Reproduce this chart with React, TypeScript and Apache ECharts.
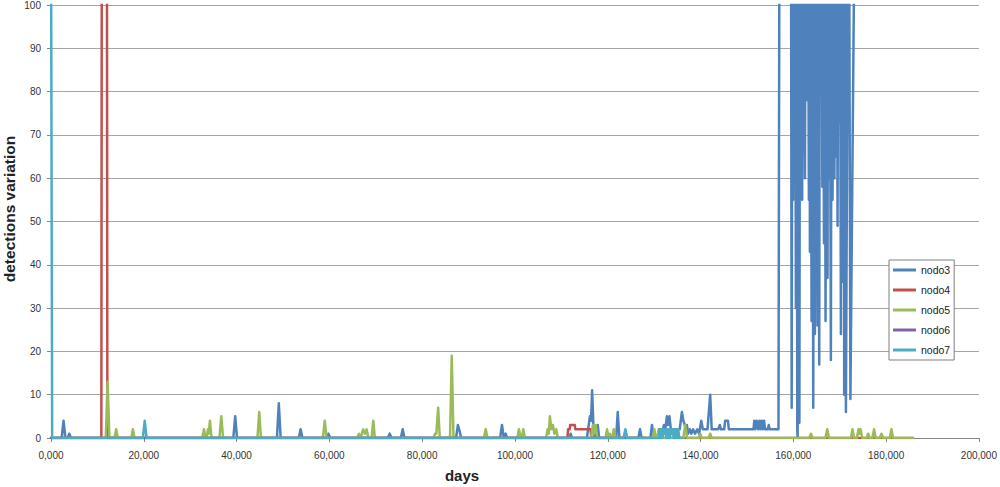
import React, { useEffect, useRef } from 'react';
import * as echarts from 'echarts';

const FONT = '"Liberation Sans", Arial, sans-serif';

const seriesNames = ['nodo3', 'nodo4', 'nodo5', 'nodo6', 'nodo7'];
const seriesColors = ['#4F81BD', '#C0504D', '#9BBB59', '#8064A2', '#4BACC6'];

const xTickLabels = ['0,000', '20,000', '40,000', '60,000', '80,000', '100,000', '120,000', '140,000', '160,000', '180,000', '200,000'];

// nodo3 (blue)
const nodo3Days = [
  0, 2300, 2700, 3100, 3600, 3950, 4300, 39300, 39700, 40100, 48700, 49100, 49500,
  53400, 53800, 54200, 59400, 59800, 60200, 72600, 73000, 73400, 75400, 75800, 76200,
  87300, 87700, 88100, 88400, 96800, 97200, 97600, 98000, 98300, 111700, 112000, 112300,
  115500, 115900, 116150, 116400, 116630, 116900, 117200, 117550, 117850, 118150,
  121800, 122150, 122500, 126600, 126950, 127300, 129200, 129530, 129900, 130800,
  131300, 131700, 132100, 132400, 132750, 133000, 133300, 133600, 135500, 135980,
  136300, 136600, 136900, 137050, 137300, 137700, 138000, 138400, 138800, 139300,
  139700, 140150, 140500, 141000, 141500, 142080, 142400, 143800, 144150, 144400,
  145100, 145300, 145900, 146100, 151400, 151600, 151800, 152100, 152400, 152700,
  152900, 153200, 153400, 153700, 153900, 154500, 154700, 154900, 156800,
  157000, 159500, 159640, 159800, 159950, 160100, 160250, 160400, 160550, 160700,
  160850, 160930, 161050, 161200, 161300, 161450, 161600, 161750, 161900, 162050,
  162200, 162350, 162500, 162650, 162800, 162990, 163150, 163350, 163500, 163570,
  163700, 163850, 163930, 164100, 164290, 164450, 164650, 164800, 164950, 165100,
  165220, 165350, 165580, 165700, 165800, 165940, 166100, 166250, 166440, 166600,
  166750, 166940, 167050, 167200, 167370, 167500, 167660, 167800, 167950, 168090,
  168250, 168450, 168650, 168850, 169050, 169250, 169400, 169530, 169700, 169890,
  170050, 170250, 170400, 170600, 170750, 170900, 170960, 171150, 171330, 171800,
  172020, 172300, 173200,
];
const nodo3Values = [
  0, 0, 4, 0, 0, 1, 0, 0, 5, 0, 0, 8, 0,
  0, 2, 0, 0, 1, 0, 0, 1, 0, 0, 2, 0,
  0, 3, 1.5, 0, 0, 3, 0, 1, 0, 0, 1, 0,
  0, 3, 5, 4, 11, 3, 0, 0, 3, 0,
  0, 6, 0, 0, 2, 0, 0, 3, 0, 0,
  2, 1, 3, 2, 5, 3, 5, 2, 2, 6,
  4, 3, 2, 3, 1, 2, 1, 2, 1, 2,
  1, 4, 2, 2, 2, 10, 2, 2, 3, 2,
  2, 4, 4, 2, 2, 4, 2, 4, 2, 4,
  2, 4, 2, 4, 2, 2, 3, 2, 2,
  120, 120, 7, 120, 55, 120, 72, 120, 30, 120,
  2, 0, 120, 50, 3.5, 120, 64, 120, 55, 120,
  66, 120, 60, 120, 78, 86, 120, 55, 120, 43,
  120, 65, 27, 120, 7, 120, 24, 120, 58, 120,
  26, 120, 17, 120, 100, 79, 120, 58, 120, 45,
  120, 27, 76, 120, 37, 120, 60, 120, 75, 18,
  120, 55, 120, 60, 120, 65, 120, 49, 120, 73,
  120, 24, 120, 79, 36, 120, 10, 120, 6, 120,
  120, 9, 120,
];

// nodo4 (red)
const nodo4Days = [0, 10850, 10950, 12050, 12150, 111300, 111450, 111800, 111900, 112900, 113000, 116300, 116450, 185800];
const nodo4Values = [0, 0, 120, 120, 0, 0, 2, 2, 3, 3, 2, 2, 0, 0];

// nodo5 (green)
const nodo5Days = [
  0, 11800, 12200, 12600, 13700, 14050, 14400, 17300, 17650, 18000,
  32600, 32970, 33300, 33500, 33830, 34000, 34260, 34600, 36300, 36700, 37100,
  44500, 44880, 45250, 58600, 59000, 59400, 66000, 66380, 66700, 67300, 67650,
  68020, 68400, 69100, 69460, 69800, 82400, 82790, 83050, 83440, 83800,
  86000, 86380, 86750, 93300, 93700, 94100, 100500, 100860, 101200, 101450, 101790, 102150,
  106700, 107030, 107300, 107530, 107850, 108170, 108500, 108890, 109250,
  116400, 116800, 117050, 117400, 117750, 119500, 119860, 120150, 120430, 120750,
  120950, 121290, 121650, 129700, 130040, 130350, 130650, 130970, 131300,
  136300, 136700, 137100, 139600, 139930, 140250, 141750, 142080, 142400,
  163450, 163800, 164150, 166900, 167300, 167700, 172400, 172750, 173100,
  173700, 174050, 174250, 174480, 174850, 175800, 176120, 176450, 177050, 177400, 177750,
  178650, 179000, 179350, 180800, 181140, 181500, 185800,
];
const nodo5Values = [
  0, 0, 13, 0, 0, 2, 0, 0, 2, 0,
  0, 2, 0, 0, 2, 1, 4, 0, 0, 5, 0,
  0, 6, 0, 0, 4, 0, 0, 1, 0, 2, 1,
  2, 0, 0, 4, 0, 0, 1, 1, 7, 0,
  0, 19, 0, 0, 2, 0, 0, 2, 0, 0, 2, 0,
  0, 2, 1, 5, 2, 3, 1, 2, 0,
  0, 3, 1, 3, 0, 0, 2, 0, 1, 0,
  0, 2, 0, 0, 2, 0, 0, 2, 0,
  0, 3, 0, 0, 1, 0, 0, 1, 0,
  0, 1, 0, 0, 2, 0, 0, 2, 0,
  0, 2, 1, 2, 0, 0, 1, 0, 0, 2, 0,
  0, 1, 0, 0, 2, 0, 0,
];

// nodo6 (purple)
const nodo6Days = [0, 128000];
const nodo6Values = [0, 0];

// nodo7 (cyan)
const nodo7Days = [
  0, 250, 19800, 20200, 20600, 123400, 123800, 124200, 131000, 131200, 131400, 131600,
  131800, 132000, 132200, 132400, 132600, 132800, 133000, 133200, 133400, 133600, 133800,
  134000, 134200, 134400, 134600, 134800, 135000, 135200, 135400, 136000,
];
const nodo7Values = [
  120, 0, 0, 4, 0, 0, 2, 0, 0, 2, 0, 2,
  0, 2, 1, 2, 0, 2, 0, 2, 0, 2, 1,
  2, 0, 2, 0, 2, 0, 2, 0, 0,
];

const allDays = [nodo3Days, nodo4Days, nodo5Days, nodo6Days, nodo7Days];
const allValues = [nodo3Values, nodo4Values, nodo5Values, nodo6Values, nodo7Values];

function zip(xs: number[], ys: number[]) {
  return xs.map((x, i) => [x, ys[i]]);
}

export default function App() {
  const ref = useRef<HTMLDivElement>(null);
  useEffect(() => {
    if (!ref.current) return;
    const chart = echarts.init(ref.current, undefined, { renderer: 'svg' });
    chart.setOption({
      animation: false,
      backgroundColor: '#ffffff',
      grid: { left: 51, right: 19, top: 3, bottom: 49, containLabel: false },
      legend: {
        orient: 'vertical',
        left: 889,
        top: 260,
        padding: [4, 4, 4, 4],
        itemWidth: 23,
        itemHeight: 3,
        itemGap: 8,
        itemTextGap: 1,
        icon: 'rect',
        borderColor: '#7f7f7f',
        borderWidth: 1,
        backgroundColor: '#ffffff',
        data: seriesNames,
        textStyle: { fontSize: 10.5, fontFamily: FONT, color: '#222', lineHeight: 12 },
      },
      xAxis: {
        type: 'value',
        min: 0,
        max: 200000,
        interval: 20000,
        axisLine: { show: true, lineStyle: { color: '#868686', width: 1 } },
        axisTick: { show: true, length: 4, lineStyle: { color: '#868686' } },
        axisLabel: {
          fontSize: 10,
          fontFamily: FONT,
          color: '#333',
          margin: 12,
          formatter: (v: number) => xTickLabels[Math.round(v / 20000)] ?? '',
        },
        splitLine: { show: false },
      },
      yAxis: {
        type: 'value',
        min: 0,
        max: 100,
        interval: 10,
        axisLine: { show: true, lineStyle: { color: '#868686', width: 1 } },
        axisTick: { show: true, length: 4, lineStyle: { color: '#868686' } },
        axisLabel: { fontSize: 10, fontFamily: FONT, color: '#333', margin: 10 },
        splitLine: { show: true, lineStyle: { color: '#a6a6a6', width: 1 } },
      },
      graphic: [
        {
          type: 'text',
          x: 462,
          y: 475,
          style: {
            text: 'days',
            font: `bold 15px ${FONT}`,
            fill: '#222',
            align: 'center',
            verticalAlign: 'middle',
          },
        },
        {
          type: 'text',
          x: 9,
          y: 209,
          rotation: Math.PI / 2,
          style: {
            text: 'detections variation',
            font: `bold 15.5px ${FONT}`,
            fill: '#222',
            align: 'center',
            verticalAlign: 'middle',
          },
        },
      ],
      series: seriesNames.map((name, i) => ({
        name,
        type: 'line',
        data: zip(allDays[i], allValues[i]),
        showSymbol: false,
        symbol: 'none',
        clip: true,
        silent: true,
        color: seriesColors[i],
        lineStyle: { width: 2.5, color: seriesColors[i], join: 'round', cap: 'round' },
        itemStyle: { color: seriesColors[i] },
      })),
    });
    return () => chart.dispose();
  }, []);
  return (
    <div
      ref={ref}
      style={{ position: 'fixed', left: 0, top: 0, width: 1000, height: 487 }}
    />
  );
}
